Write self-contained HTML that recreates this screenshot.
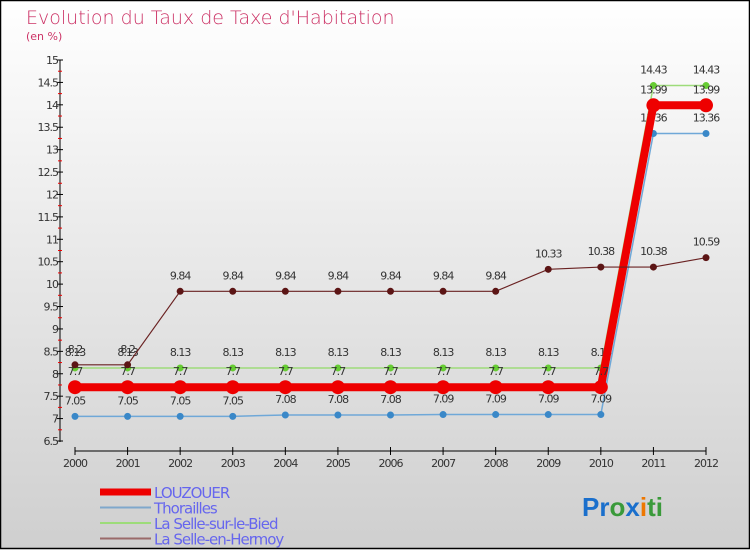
<!DOCTYPE html>
<html><head><meta charset="utf-8"><style>
body{margin:0;width:750px;height:550px;overflow:hidden;font-family:"DejaVu Sans","Liberation Sans",sans-serif}
svg{display:block}
</style></head><body>
<svg id="c" width="750" height="550" xmlns="http://www.w3.org/2000/svg">
<defs><linearGradient id="bg" x1="0" y1="0" x2="0" y2="1"><stop offset="0" stop-color="#ffffff"/><stop offset="1" stop-color="#cfcfcf"/></linearGradient></defs>
<rect x="0.5" y="0.5" width="749" height="548" fill="url(#bg)" stroke="#000" stroke-width="1.5"/>
<text x="26" y="24" font-size="19" fill="#cc3366" font-family="DejaVu Sans,sans-serif" font-weight="200">Evolution du Taux de Taxe d'Habitation</text>
<text x="26" y="40" font-size="11" fill="#cc3366">(en %)</text>
<g id="axes"></g><g id="series"></g><g id="legend"></g>
<text x="582" y="516" font-size="26" font-weight="bold" font-family="Liberation Sans,sans-serif"><tspan fill="#1a6fcc">Pr</tspan><tspan fill="#3a9a3a">o</tspan><tspan fill="#1a6fcc">x</tspan><tspan fill="#ee7700">i</tspan><tspan fill="#3a9a3a">ti</tspan></text>
</svg>
<script>
const years=[2000,2001,2002,2003,2004,2005,2006,2007,2008,2009,2010,2011,2012];
const yTicks=[6.5,7,7.5,8,8.5,9,9.5,10,10.5,11,11.5,12,12.5,13,13.5,14,14.5,15];
const louzouer=[7.7,7.7,7.7,7.7,7.7,7.7,7.7,7.7,7.7,7.7,7.7,13.99,13.99];
const thorailles=[7.05,7.05,7.05,7.05,7.08,7.08,7.08,7.09,7.09,7.09,7.09,13.36,13.36];
const selleBied=[8.13,8.13,8.13,8.13,8.13,8.13,8.13,8.13,8.13,8.13,8.13,14.43,14.43];
const selleHermoy=[8.2,8.2,9.84,9.84,9.84,9.84,9.84,9.84,9.84,10.33,10.38,10.38,10.59];
const NS="http://www.w3.org/2000/svg";
const X=i=>75+i*(631/12);
const Y=v=>441-(v-6.5)*(381/8.5);
function mk(p,t,a){const e=document.createElementNS(NS,t);for(const k in a)e.setAttribute(k,a[k]);p.appendChild(e);return e;}
const ax=document.getElementById('axes');
const yl=mk(ax,'line',{x1:60,y1:60,x2:60,y2:442,stroke:'#000'});


yTicks.forEach(v=>{
 mk(ax,'line',{x1:57,x2:63,y1:Y(v),y2:Y(v),stroke:'#000'});
 if(v<15)mk(ax,'line',{x1:58,x2:62,y1:Y(v+0.25),y2:Y(v+0.25),stroke:'#e00'});
 const t=mk(ax,'text',{x:58,y:Y(v)+4,'font-size':11,'text-anchor':'end',fill:'#333','letter-spacing':'-1'});
 t.textContent=v;
 
 
});
const xl=mk(ax,'line',{x1:75,y1:451,x2:706,y2:451,stroke:'#000'});


years.forEach((y,i)=>{
 mk(ax,'line',{x1:X(i),x2:X(i),y1:447,y2:455,stroke:'#000'});
 const t=mk(ax,'text',{x:X(i),y:467,'font-size':11,'text-anchor':'middle',fill:'#333','letter-spacing':'-1'});
 t.textContent=y;
 
 
});
const sg=document.getElementById('series');
function series(name,data,color,w,r,fill,lblOff){
 const g=mk(sg,'g',{});
 
 
 mk(g,'polyline',{points:data.map((v,i)=>X(i)+','+Y(v)).join(' '),fill:'none',stroke:color,'stroke-width':w});
 data.forEach((v,i)=>{
  const c=mk(g,'circle',{cx:X(i),cy:Y(v),r:r,fill:fill});
  
  
  const t=mk(g,'text',{x:X(i),y:Y(v)+lblOff,'font-size':11,'text-anchor':'middle',fill:'#333','letter-spacing':'-1'});
  t.textContent=v;
  
  
 });
}
series('series-thorailles',thorailles,'#6fa8d8',1.5,3.5,'#3a88c8',-12);
series('series-la-selle-sur-le-bied',selleBied,'#9ddc7a',1.5,3.5,'#66cc33',-12);
series('series-louzouer',louzouer,'#ee0000',8,7,'#ee0000',-12);
series('series-la-selle-en-hermoy',selleHermoy,'#6a2222',1.2,3.5,'#5c1515',-12);
const lg=document.getElementById('legend');
const items=[['LOUZOUER','#ee0000',7],['Thorailles','#7fa8cc',2],['La Selle-sur-le-Bied','#9ddc7a',2],['La Selle-en-Hermoy','#9a6a6a',2]];
items.forEach((it,k)=>{
 const y=492+k*15.5;
 const g=mk(lg,'g',{});
 
 
 mk(g,'line',{x1:100,x2:151,y1:y,y2:y,stroke:it[1],'stroke-width':it[2]});
 const t=mk(g,'text',{x:154,y:y+6,'font-size':15,fill:'#6666ee','letter-spacing':'-1'});
 t.textContent=it[0];
});
</script>
</body></html>
